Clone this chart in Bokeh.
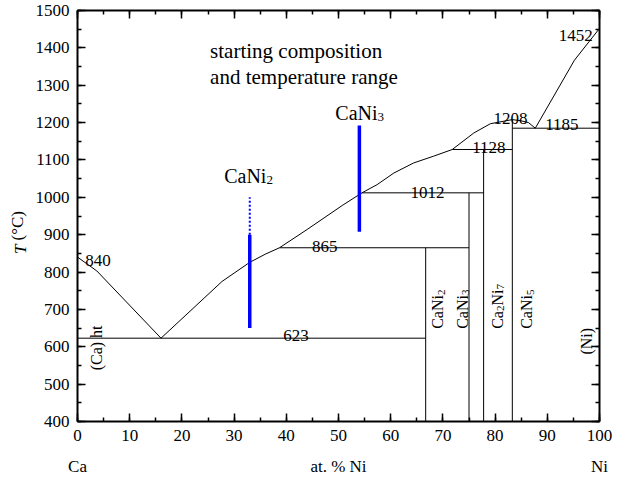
from math import pi
from bokeh.plotting import figure
from bokeh.models import Range1d, LinearAxis, Label, SingleIntervalTicker, FixedTicker
from bokeh.embed import file_html
from bokeh.resources import INLINE

FONT = "Liberation Serif"

# ---------------- data ----------------
# liquidus, Ca-rich branch
liq_left_x = [0, 3.7, 16]
liq_left_T = [840, 803, 623]
# liquidus, Ni-rich branch
liq_right_x = [16, 27.7, 33, 36, 38.7, 44, 50.7, 54.5, 57.4, 60.6, 64.4, 68.2, 71.8,
               75.9, 79.1, 83.3, 84.9, 86.4, 87.7, 95.2, 100]
liq_right_T = [623, 775, 826, 848, 865, 914, 978, 1012, 1034, 1065, 1092, 1110, 1128,
               1172, 1197, 1208, 1205, 1200, 1185, 1367, 1452]

# invariant (horizontal) lines
iso_T = [623, 865, 1012, 1128, 1185]
iso_x_start = [0, 38.7, 54.5, 71.8, 83.3]
iso_x_end = [66.7, 75.0, 77.8, 83.3, 100]

# compounds (vertical lines)
comp_x = [66.7, 75.0, 77.8, 83.3]
comp_T_top = [865, 1012, 1128, 1208]

# starting compositions and temperature ranges
sample_x = [33, 54]
sample_T_low = [650, 908]
sample_T_high = [900, 1192]
dotted_x = [33]
dotted_T_low = [900]
dotted_T_high = [1000]

temp_labels = ["840", "623", "865", "1012", "1128", "1208", "1185", "1452"]

x_ticks = list(range(0, 101, 10))
y_ticks = list(range(400, 1501, 100))
x_end_labels = {0: "Ca", 50: "at. % Ni", 100: "Ni"}
y_title_T = {861: "T"}
y_title_unit = {924: "(°C)"}

# ---------------- figure ----------------
p = figure(width=628, height=478, x_range=Range1d(0, 100), y_range=Range1d(400, 1500),
           output_backend="svg", toolbar_location=None,
           min_border_left=77, min_border_right=29, min_border_top=10, min_border_bottom=55,
           background_fill_color="white", border_fill_color="white")
p.grid.visible = False
p.outline_line_color = None


def style_axis(ax, labels=True):
    ax.major_tick_in = 8
    ax.major_tick_out = 0
    ax.minor_tick_in = 4
    ax.minor_tick_out = 0
    ax.axis_line_width = 2
    ax.axis_line_color = "black"
    ax.major_tick_line_width = 1.5
    ax.minor_tick_line_width = 1.5
    ax.major_tick_line_color = "black"
    ax.minor_tick_line_color = "black"
    if labels:
        ax.major_label_text_font = FONT
        ax.major_label_text_font_size = "17px"
        ax.major_label_text_color = "black"
        ax.major_label_standoff = 8
    else:
        ax.major_label_text_font_size = "1px"
        ax.major_label_text_color = None
        ax.major_label_standoff = 0


p.xaxis[0].ticker = SingleIntervalTicker(interval=10, num_minor_ticks=2)
p.yaxis[0].ticker = SingleIntervalTicker(interval=100, num_minor_ticks=2)
style_axis(p.xaxis[0])
style_axis(p.yaxis[0])
top = LinearAxis(ticker=SingleIntervalTicker(interval=10, num_minor_ticks=2))
right = LinearAxis(ticker=SingleIntervalTicker(interval=100, num_minor_ticks=2))
style_axis(top, False)
style_axis(right, False)
p.add_layout(top, "above")
p.add_layout(right, "right")


def title_axis(labels, standoff, style="normal", orientation="horizontal"):
    return LinearAxis(ticker=FixedTicker(ticks=list(labels.keys()), minor_ticks=[]),
                      major_label_overrides=labels,
                      axis_line_color=None, major_tick_line_color=None,
                      minor_tick_line_color=None,
                      major_tick_in=0, major_tick_out=0,
                      minor_tick_in=0, minor_tick_out=0,
                      major_label_text_font=FONT, major_label_text_font_size="17px",
                      major_label_text_font_style=style,
                      major_label_orientation=orientation,
                      major_label_text_color="black", major_label_standoff=standoff)


# second row under the x axis: "Ca   at. % Ni   Ni"
p.add_layout(title_axis(x_end_labels, 13), "below")
# y title: italic T, then (°C) pulled back onto the same column
p.add_layout(title_axis(y_title_T, 2, style="italic", orientation="vertical"), "left")
p.add_layout(title_axis(y_title_unit, -19, orientation="vertical"), "left")

# ---------------- lines ----------------
p.line(liq_left_x, liq_left_T, line_color="black", line_width=1)
p.line(liq_right_x, liq_right_T, line_color="black", line_width=1)
p.segment(x0=iso_x_start, y0=iso_T, x1=iso_x_end, y1=iso_T, line_color="black", line_width=1)
p.segment(x0=comp_x, y0=[400] * len(comp_x), x1=comp_x, y1=comp_T_top,
          line_color="black", line_width=1)
p.segment(x0=sample_x, y0=sample_T_low, x1=sample_x, y1=sample_T_high,
          line_color="#0000ff", line_width=3.5)
p.segment(x0=dotted_x, y0=dotted_T_low, x1=dotted_x, y1=dotted_T_high,
          line_color="#0000ff", line_width=2, line_dash="2 2")

# ---------------- texts ----------------
W = {"C": 0.667, "a": 0.444, "N": 0.722, "i": 0.278, "2": 0.5, "3": 0.5, "5": 0.5, "7": 0.5}


def txt(x, y, s, size, angle=0.0, xo=0.0, yo=0.0, style="normal", align="left"):
    p.add_layout(Label(x=x, y=y, text=s, text_font=FONT, text_font_size=f"{size}px",
                       angle=angle, x_offset=xo, y_offset=yo, text_align=align,
                       text_baseline="alphabetic", text_color="black",
                       text_font_style=style))


def formula(x, y, parts, size, sub_size, drop, rotated=False):
    adv = 0.0
    for s, sub in parts:
        fs = sub_size if sub else size
        d = drop if sub else 0.0
        if rotated:
            txt(x, y, s, fs, angle=pi / 2, xo=d, yo=adv)
        else:
            txt(x, y, s, fs, xo=adv, yo=-d)
        adv += sum(W[c] for c in s) * fs


# temperatures of invariant reactions
temp_pos = [(1.5, 832), (39.4, 630), (44.9, 869), (63.8, 1014), (75.6, 1133),
            (79.7, 1212), (89.6, 1194), (92.2, 1433)]
for s, (x, y) in zip(temp_labels, temp_pos):
    txt(x, y, s, 17)

txt(25.4, 1392, "starting composition", 21)
txt(25.4, 1322, "and temperature range", 21)

formula(28.1, 1058, [("CaNi", False), ("2", True)], 20, 13, 4)
formula(49.4, 1226, [("CaNi", False), ("3", True)], 20, 13, 4)

formula(69.0, 648, [("CaNi", False), ("2", True)], 16, 11, 3.5, rotated=True)
formula(73.7, 648, [("CaNi", False), ("3", True)], 16, 11, 3.5, rotated=True)
formula(80.4, 648, [("Ca", False), ("2", True), ("Ni", False), ("7", True)], 16, 11, 3.5,
        rotated=True)
formula(86.1, 648, [("CaNi", False), ("5", True)], 16, 11, 3.5, rotated=True)
txt(97.5, 579, "(Ni)", 16, angle=pi / 2)
txt(3.6, 537, "(Ca) ht", 16, angle=pi / 2)

open("out.html", "w").write(file_html(p, INLINE))
